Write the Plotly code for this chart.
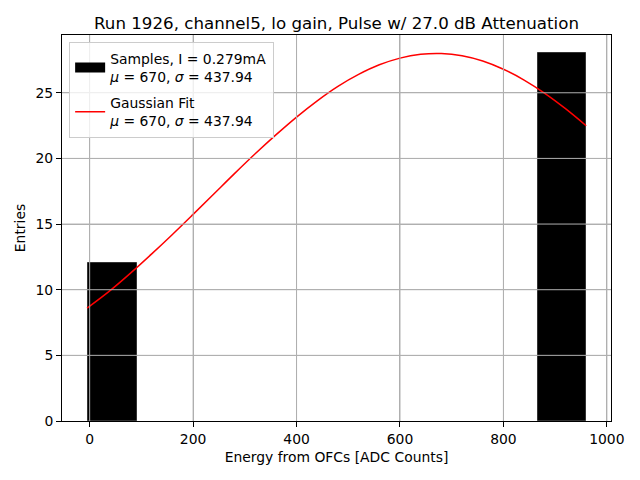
import plotly.graph_objects as go

title = "Run 1926, channel5, lo gain, Pulse w/ 27.0 dB Attenuation"
bin_left = [-3, 867]
bin_right = [91, 959]
counts = [12, 28]

fit_x = [-5, 40, 80, 120, 160, 200, 240, 280, 320, 360, 400, 440, 480, 520, 560,
         600, 640, 680, 720, 760, 800, 840, 880, 920, 960]
fit_y = [8.6, 9.95, 11.3, 12.73, 14.21, 15.74, 17.29, 18.84, 20.35, 21.79, 23.15,
         24.39, 25.49, 26.4, 27.13, 27.64, 27.93, 27.99, 27.82, 27.42, 26.79, 25.97,
         24.96, 23.79, 22.49]

x_ticks = [0, 200, 400, 600, 800, 1000]
y_ticks = [0, 5, 10, 15, 20, 25]

centers = [(a + b) / 2 for a, b in zip(bin_left, bin_right)]
widths = [b - a for a, b in zip(bin_left, bin_right)]

label_samples = "Samples, I = 0.279mA<br><i>μ</i> = 670, <i>σ</i> = 437.94"
label_fit = "Gaussian Fit<br><i>μ</i> = 670, <i>σ</i> = 437.94"

font = "DejaVu Sans"
fs = 13.9
grid_color = "#b0b0b0"
fig = go.Figure()
fig.add_trace(go.Bar(
    x=centers, y=counts, width=widths,
    marker=dict(color="black", line=dict(color="#333333", width=1)),
    name=label_samples, showlegend=False,
))
# legend proxy for the histogram patch (wide rectangle like matplotlib)
fig.add_trace(go.Scatter(
    x=[None], y=[None], mode="lines", line=dict(color="black", width=10),
    name=label_samples, legendgroup="a",
))
fig.add_trace(go.Scatter(
    x=fit_x, y=fit_y, mode="lines", line=dict(color="red", width=1.5, shape="spline"),
    name=label_fit, legendgroup="b",
))

# grid drawn over the histogram bars (as matplotlib does: grid above patches)
for yt in y_ticks[1:]:
    fig.add_hline(y=yt, line=dict(color=grid_color, width=1), layer="above")
for xt in x_ticks:
    fig.add_vline(x=xt, line=dict(color=grid_color, width=1), layer="above")

axis_common = dict(
    showline=True, linecolor="black", linewidth=1, mirror=True,
    ticks="outside", ticklen=5, tickwidth=1, tickcolor="black",
    showgrid=True, gridcolor=grid_color, gridwidth=1,
    zeroline=False, layer="above traces", automargin=False,
    tickfont=dict(family=font, size=fs, color="black"),
)
fig.update_xaxes(range=[-53.5, 1008], tickvals=x_ticks,
                 title=dict(text="Energy from OFCs [ADC Counts]", font=dict(family=font, size=fs, color="black"), standoff=6),
                 **axis_common)
fig.update_yaxes(range=[0, 29.4], tickvals=y_ticks,
                 title=dict(text="Entries", font=dict(family=font, size=fs, color="black"), standoff=6),
                 **axis_common)

fig.update_layout(
    width=640, height=480,
    margin=dict(l=62, r=29, t=35, b=59, autoexpand=False),
    paper_bgcolor="white", plot_bgcolor="white",
    title=dict(text=title, xref="paper", x=0.5, xanchor="center", y=0.952, yanchor="middle",
               font=dict(family=font, size=16.67, color="black")),
    font=dict(family=font, color="black"),
    showlegend=True,
    legend=dict(x=0.013, y=0.982, xanchor="left", yanchor="top",
                bgcolor="rgba(255,255,255,0.8)", bordercolor="#cccccc", borderwidth=1,
                font=dict(family=font, size=fs, color="black"),
                tracegroupgap=5),
    bargap=0,
)

fig.write_html("out.html", config={"displayModeBar": False},
               post_script="document.body.style.margin='0';document.body.style.padding='0';")
